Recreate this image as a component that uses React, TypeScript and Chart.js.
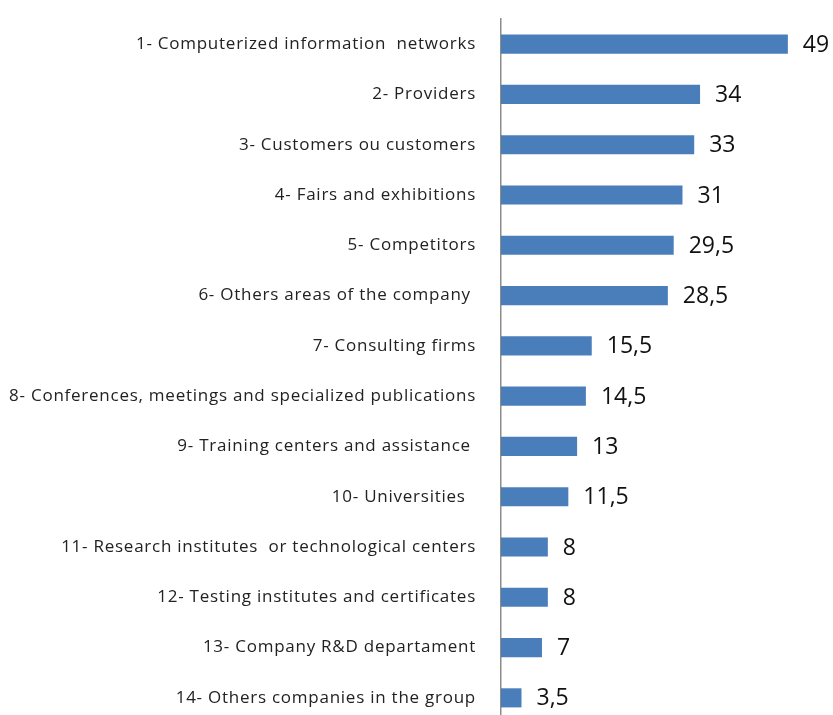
import React, { useEffect, useRef } from "react";
import { Chart, registerables } from "chart.js";

Chart.register(...registerables);

const categories: string[] = [
  "1- Computerized information  networks",
  "2- Providers",
  "3- Customers ou customers",
  "4- Fairs and exhibitions",
  "5- Competitors",
  "6- Others areas of the company ",
  "7- Consulting firms",
  "8- Conferences, meetings and specialized publications",
  "9- Training centers and assistance ",
  "10- Universities  ",
  "11- Research institutes  or technological centers",
  "12- Testing institutes and certificates",
  "13- Company R&D departament",
  "14- Others companies in the group",
];

const values: number[] = [49, 34, 33, 31, 29.5, 28.5, 15.5, 14.5, 13, 11.5, 8, 8, 7, 3.5];

const xMin = 0;
const xMax = 55;

const FONT = "'Open Sans', Lato, sans-serif";

const spacing = {
  id: "spacing",
  beforeDraw(chart: any) {
    (chart.ctx as any).letterSpacing = "0.75px";
  },
  afterDraw(chart: any) {
    (chart.ctx as any).letterSpacing = "0px";
  },
};

const valueLabels = {
  id: "valueLabels",
  afterDatasetsDraw(chart: any) {
    const ctx = chart.ctx;
    const meta = chart.getDatasetMeta(0);
    ctx.save();
    (ctx as any).letterSpacing = "0px";
    ctx.font = `23px ${FONT}`;
    ctx.fillStyle = "#111";
    ctx.textAlign = "left";
    ctx.textBaseline = "middle";
    meta.data.forEach((bar: any, i: number) => {
      const txt = String(values[i]).replace(".", ",");
      ctx.fillText(txt, bar.x + 15, bar.y + 1);
    });
    ctx.restore();
  },
};

export default function App() {
  const ref = useRef<HTMLCanvasElement | null>(null);

  useEffect(() => {
    if (!ref.current) return;
    const chart = new Chart(ref.current, {
      type: "bar",
      data: {
        labels: categories,
        datasets: [
          {
            data: values,
            backgroundColor: "#4a7ebb",
            borderWidth: 0,
            barPercentage: 0.38,
            categoryPercentage: 1,
          },
        ],
      },
      options: {
        indexAxis: "y",
        animation: false,
        responsive: false,
        layout: { padding: { top: 19, bottom: 2, left: 0, right: 10 } },
        plugins: {
          legend: { display: false },
          tooltip: { enabled: false },
        },
        scales: {
          x: { display: false, min: xMin, max: xMax },
          y: {
            afterFit: (scale: any) => {
              scale.width = 501;
              scale.paddingTop = 0;
              scale.paddingBottom = 0;
            },
            grid: { display: false, drawTicks: false },
            border: { display: true, color: "#8c8c8c", width: 1.5 },
            ticks: {
              padding: 25,
              color: "#222",
              font: { family: FONT, size: 17 },
              autoSkip: false,
            },
          },
        },
      },
      plugins: [spacing, valueLabels],
    });
    return () => chart.destroy();
  }, []);

  return (
    <div style={{ position: "fixed", top: 0, left: 0, width: 833, height: 725, background: "#fff" }}>
      <canvas ref={ref} width={833} height={725} />
    </div>
  );
}
